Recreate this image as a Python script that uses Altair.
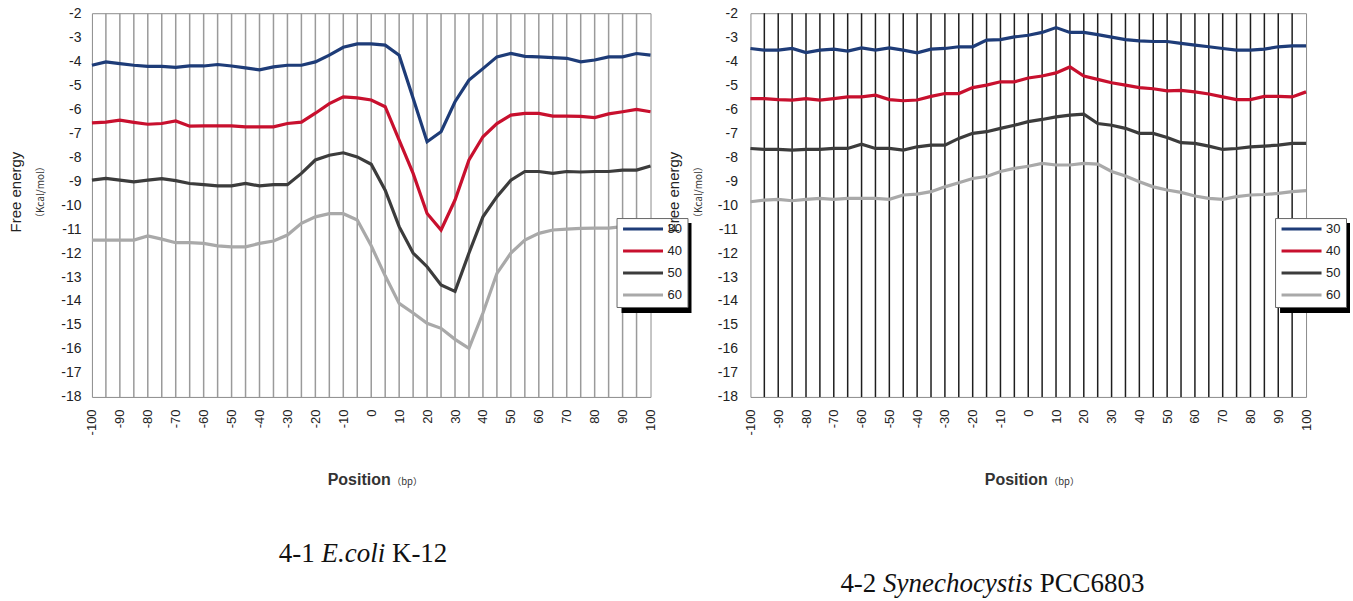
import altair as alt
import pandas as pd

positions = [-100, -95, -90, -85, -80, -75, -70, -65, -60, -55, -50, -45, -40, -35, -30,
             -25, -20, -15, -10, -5, 0, 5, 10, 15, 20, 25, 30, 35, 40, 45, 50, 55, 60,
             65, 70, 75, 80, 85, 90, 95, 100]
series_names = ["30", "40", "50", "60"]
series_colors = ["#1e3c78", "#c8102e", "#3c3c3c", "#a9a9a9"]
x_tick_values = [-100, -90, -80, -70, -60, -50, -40, -30, -20, -10, 0, 10, 20, 30, 40,
                 50, 60, 70, 80, 90, 100]
y_tick_values = [-2, -3, -4, -5, -6, -7, -8, -9, -10, -11, -12, -13, -14, -15, -16, -17, -18]

# 4-1 E.coli K-12
ecoli_30 = [-4.17, -4.03, -4.1, -4.17, -4.22, -4.22, -4.26, -4.2, -4.2, -4.14, -4.2, -4.28,
            -4.36, -4.24, -4.17, -4.17, -4.03, -3.75, -3.42, -3.28, -3.28, -3.33, -3.75,
            -5.55, -7.36, -6.94, -5.69, -4.79, -4.31, -3.82, -3.68, -3.8, -3.82, -3.85,
            -3.88, -4.03, -3.95, -3.82, -3.82, -3.68, -3.75]
ecoli_40 = [-6.57, -6.54, -6.46, -6.55, -6.63, -6.6, -6.49, -6.71, -6.7, -6.7, -6.7, -6.74,
            -6.74, -6.74, -6.6, -6.54, -6.17, -5.77, -5.49, -5.53, -5.62, -5.9, -7.29,
            -8.68, -10.35, -11.04, -9.79, -8.12, -7.15, -6.6, -6.25, -6.18, -6.18, -6.29,
            -6.29, -6.3, -6.35, -6.2, -6.11, -6.01, -6.11]
ecoli_50 = [-8.96, -8.89, -8.96, -9.03, -8.96, -8.9, -8.98, -9.1, -9.15, -9.2, -9.2, -9.1,
            -9.2, -9.15, -9.15, -8.68, -8.12, -7.92, -7.82, -7.99, -8.3, -9.38, -10.9,
            -12.0, -12.57, -13.33, -13.6, -12.0, -10.49, -9.65, -8.96, -8.6, -8.6, -8.68,
            -8.6, -8.62, -8.6, -8.6, -8.54, -8.54, -8.37]
ecoli_60 = [-11.46, -11.46, -11.46, -11.46, -11.29, -11.42, -11.57, -11.57, -11.6, -11.7,
            -11.74, -11.74, -11.6, -11.5, -11.25, -10.76, -10.49, -10.36, -10.36, -10.62,
            -11.7, -12.95, -14.1, -14.5, -14.93, -15.14, -15.6, -15.97, -14.5, -12.85,
            -12.0, -11.46, -11.18, -11.04, -11.0, -10.97, -10.96, -10.96, -10.9, -10.9, -10.9]

# 4-2 Synechocystis PCC6803
syn_30 = [-3.47, -3.54, -3.54, -3.47, -3.64, -3.54, -3.5, -3.58, -3.45, -3.54, -3.45, -3.54,
          -3.65, -3.5, -3.47, -3.4, -3.4, -3.12, -3.1, -2.99, -2.92, -2.8, -2.6, -2.8, -2.8,
          -2.89, -3.0, -3.1, -3.15, -3.18, -3.18, -3.26, -3.33, -3.4, -3.47, -3.54, -3.54,
          -3.5, -3.4, -3.36, -3.36]
syn_40 = [-5.56, -5.56, -5.6, -5.62, -5.56, -5.62, -5.56, -5.49, -5.49, -5.42, -5.6, -5.65,
          -5.62, -5.47, -5.35, -5.35, -5.1, -5.0, -4.86, -4.86, -4.7, -4.62, -4.49, -4.24,
          -4.62, -4.76, -4.9, -5.0, -5.1, -5.15, -5.24, -5.22, -5.28, -5.37, -5.49, -5.6,
          -5.6, -5.47, -5.47, -5.49, -5.28]
syn_50 = [-7.64, -7.68, -7.68, -7.71, -7.68, -7.68, -7.64, -7.64, -7.46, -7.64, -7.64, -7.71,
          -7.57, -7.5, -7.5, -7.22, -7.01, -6.94, -6.8, -6.67, -6.52, -6.43, -6.32, -6.25,
          -6.21, -6.6, -6.67, -6.8, -7.01, -7.01, -7.18, -7.4, -7.43, -7.54, -7.68, -7.64,
          -7.57, -7.54, -7.5, -7.43, -7.43]
syn_60 = [-9.86, -9.79, -9.76, -9.82, -9.76, -9.72, -9.76, -9.72, -9.72, -9.72, -9.76, -9.58,
          -9.54, -9.44, -9.24, -9.07, -8.89, -8.81, -8.6, -8.47, -8.38, -8.26, -8.33, -8.33,
          -8.26, -8.29, -8.6, -8.79, -9.03, -9.24, -9.37, -9.47, -9.62, -9.72, -9.76, -9.65,
          -9.58, -9.56, -9.51, -9.44, -9.4]

PLOT_H = 384
SANS = "Liberation Sans"
SERIF = "Liberation Serif"
CJK = "Noto Sans CJK JP"


def to_long(values_by_series):
    rows = []
    for name, vals in zip(series_names, values_by_series):
        for p, v in zip(positions, vals):
            rows.append({"pos": p, "val": v, "series": name})
    return pd.DataFrame(rows)


def text_layer(txt, x, y, size, font, angle=0, align="center", baseline="middle",
               style="normal", weight="normal", color="#222222"):
    kw = dict(fontSize=size, font=font, align=align, baseline=baseline,
              fontStyle=style, fontWeight=weight, color=color)
    if angle:
        kw["angle"] = angle
    return alt.Chart(pd.DataFrame({"t": [txt]})).mark_text(**kw).encode(
        text="t:N", x=alt.value(x), y=alt.value(y))


def panel(values_by_series, width, grid_color, ylabel_pad, caption, caption_x, caption_y):
    xscale = alt.Scale(domain=[-100, 100], nice=False, zero=False)
    yscale = alt.Scale(domain=[-18, -2], nice=False, zero=False)
    xaxis = alt.Axis(title=None, values=x_tick_values, labelAngle=270,
                     labelAlign="right", labelBaseline="middle", labelPadding=12,
                     ticks=False, domain=False, grid=False, labelFontSize=13,
                     labelFont=SANS, labelColor="#222222", labelFlush=False,
                     labelOverlap=False, labelExpr="'' + datum.value")

    grid = alt.Chart(pd.DataFrame({"pos": positions[1:-1]})).mark_rule(
        color=grid_color, strokeWidth=1.5).encode(
        x=alt.X("pos:Q", scale=xscale, axis=xaxis))

    lines = alt.Chart(to_long(values_by_series)).mark_line(strokeWidth=3.2).encode(
        x=alt.X("pos:Q", scale=xscale, axis=xaxis),
        y=alt.Y("val:Q", scale=yscale,
                axis=alt.Axis(title=None, values=y_tick_values, ticks=False, domain=False,
                              grid=False, labelPadding=ylabel_pad, labelFontSize=14,
                              labelFont=SANS, labelColor="#222222", labelFlush=False,
                              labelOverlap=False, labelExpr="'' + datum.value")),
        color=alt.Color("series:N",
                        scale=alt.Scale(domain=series_names, range=series_colors),
                        legend=alt.Legend(orient="none", legendX=525, legendY=205,
                                          title=None, symbolType="stroke",
                                          symbolSize=1600, symbolStrokeWidth=3,
                                          clipHeight=12, rowPadding=9, padding=5,
                                          fillColor="white", strokeColor="#666666",
                                          labelFontSize=13, labelFont=SANS,
                                          labelColor="#222222", labelOffset=3)),
        order=alt.Order("pos:Q"),
    )

    shadow = alt.Chart(pd.DataFrame({"a": [0]})).mark_rect(color="#000000").encode(
        x=alt.value(530), x2=alt.value(600), y=alt.value(210), y2=alt.value(300))

    layers = [grid, lines, shadow,
              text_layer("Free energy", -76, 179, 15, SANS, angle=270),
              text_layer("（Kcal/mol）", -51, 179, 10, CJK, angle=270, color="#333333"),
              text_layer("Position", width / 2 + 19.5, 467, 16, SANS, align="right",
                         weight="bold", color="#333333"),
              text_layer("（bp）", width / 2 + 20.5, 469, 9.5, CJK, align="left",
                         color="#333333")]
    cx = caption_x
    for part, style, w in caption:
        layers.append(text_layer(part, cx, caption_y, 27, SERIF, align="left",
                                 baseline="alphabetic", style=style, color="#111111"))
        cx += w
    return alt.layer(*layers).properties(width=width, height=PLOT_H)


left = panel([ecoli_30, ecoli_40, ecoli_50, ecoli_60], 559, "#9a9a9a", 11,
             [("4-1", "normal", 42.7), ("E.coli", "italic", 70.5), ("K-12", "normal", 60)],
             187, 549)
right = panel([syn_30, syn_40, syn_50, syn_60], 556, "#1e1e1e", 13,
              [("4-2", "normal", 42.7), ("Synechocystis", "italic", 156.7),
               ("PCC6803", "normal", 110)],
              90, 579)

chart = alt.hconcat(left, right, spacing=100, bounds="flush").resolve_scale(
    color="independent").properties(
    padding={"left": 8, "top": 5, "right": 2, "bottom": 2},
    background="white").configure_view(stroke="#8c8c8c", strokeWidth=1)

chart.save("out.html", embed_options={"renderer": "svg", "actions": False})
